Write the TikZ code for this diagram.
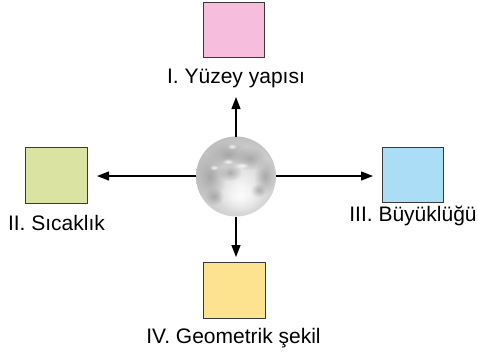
\documentclass[tikz,border=0pt]{standalone}
\usepackage{fontspec}
\setmainfont{Liberation Sans}
\usetikzlibrary{arrows.meta,calc,fadings}
\definecolor{bxpink}{HTML}{F6BEDC}
\definecolor{bxgreen}{HTML}{DAE3A1}
\definecolor{bxblue}{HTML}{ACDDF6}
\definecolor{bxyellow}{HTML}{FDE28F}
\definecolor{bxline}{HTML}{3A3A3A}
\tikzfading[name=softspot, inner color=transparent!0, outer color=transparent!100]
\tikzset{
  box/.style={draw=bxline, line width=1.4pt, minimum width=61pt, minimum height=55pt, inner sep=0pt, outer sep=0pt},
  lab/.style={anchor=base, inner sep=0pt, font=\fontsize{21}{25}\selectfont},
  arr/.style={line width=1.3pt, draw=black, -{Triangle[length=12pt,width=9pt]}},
  mare/.style={fill=gray!80, path fading=softspot, fill opacity=0.75},
  glow/.style={fill=white, path fading=softspot, fill opacity=0.8},
}
\begin{document}
\begin{tikzpicture}[x=1pt,y=-1pt]
\useasboundingbox (0,0) rectangle (478,354);
% boxes
\node[box, fill=bxpink] (b1) at (234,30) {};
\node[box, fill=bxgreen, minimum width=62pt, minimum height=56pt] (b2) at (56.5,175.5) {};
\node[box, fill=bxblue] (b3) at (413,175) {};
\node[box, fill=bxyellow, minimum width=62pt, minimum height=56pt] (b4) at (234.5,290.5) {};
% labels
\node[lab] (l1) at (236,83) {I. Yüzey yapısı};
\node[lab] (l2) at (56.5,230) {II. Sıcaklık};
\node[lab] (l3) at (413,221) {III. Büyüklüğü};
\node[lab] (l4) at (233.5,343) {IV. Geometrik şekil};
% moon
\node[circle, minimum size=80pt, inner sep=0pt, outer sep=0pt] (moon) at (236,176.5) {};
\begin{scope}
  \clip (moon.center) circle (40);
  \shade[inner color=gray!8, outer color=gray!55] ($(moon.center)+(5,10)$) circle (56);
  \fill[mare] ($(moon.center)+(-26,0)$) ellipse (16 and 24);
  \fill[mare] ($(moon.center)+(-8,-22)$) ellipse (22 and 13);
  \fill[mare] ($(moon.center)+(14,-18)$) ellipse (16 and 12);
  \fill[mare] ($(moon.center)+(29,0)$) ellipse (11 and 18);
  \fill[mare] ($(moon.center)+(-22,20)$) ellipse (10 and 9);
  \fill[mare] ($(moon.center)+(-6,-4)$) ellipse (12 and 9);
  \fill[mare] ($(moon.center)+(22,14)$) ellipse (8 and 7);
  \fill[glow] ($(moon.center)+(-8,-15)$) ellipse (6 and 3);
  \fill[glow] ($(moon.center)+(-22,-9)$) ellipse (5 and 3);
  \fill[glow] ($(moon.center)+(6,-11)$) ellipse (7 and 3);
  \fill[glow] ($(moon.center)+(-4,-30)$) ellipse (5 and 3);
  \fill[glow] ($(moon.center)+(4,20)$) ellipse (22 and 16);
\end{scope}
% arrow tips
\coordinate (t1) at (236,97);
\coordinate (t2) at (97,176);
\coordinate (t3) at (373,176);
\coordinate (t4) at (236,257);
\draw[arr] (moon.north) -- (t1);
\draw[arr] (moon.west |- t2) -- (t2);
\draw[arr] (moon.east |- t3) -- (t3);
\draw[arr] (moon.south) -- (t4);
\end{tikzpicture}
\end{document}
